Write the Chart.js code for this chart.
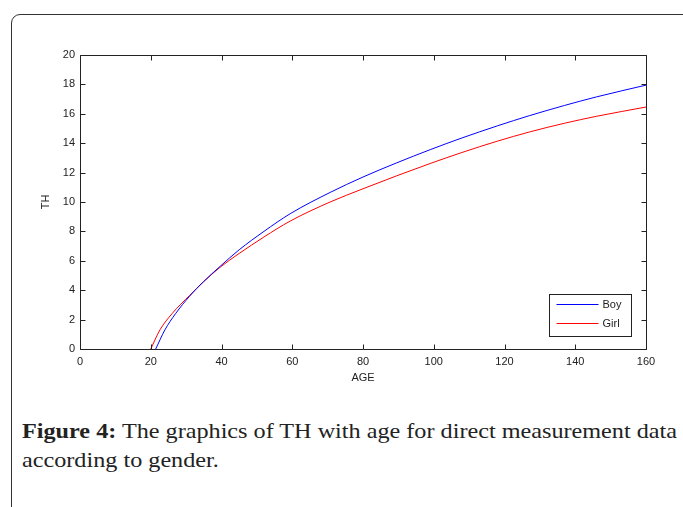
<!DOCTYPE html>
<html>
<head>
<meta charset="utf-8">
<script src="https://cdn.jsdelivr.net/npm/chart.js@4.4.1/dist/chart.umd.min.js"></script>
<style>
  body { margin: 0; background: #fff; }
  #wrap { position: relative; width: 683px; height: 507px; overflow: hidden; }
  #frame {
    position: absolute; left: 11px; top: 14px; width: 690px; height: 520px;
    border: 1.5px solid #333; border-radius: 9px;
  }
  #chart { position: absolute; left: 0; top: 0; }
  #caption {
    position: absolute; left: 22px; top: 416px; white-space: nowrap;
    font-family: "Liberation Serif", "DejaVu Serif", serif;
    font-size: 22px; line-height: 29px; color: #222;
    transform-origin: 0 0;
  }
</style>
</head>
<body>
<div id="wrap">
  <div id="frame"></div>
  <canvas id="chart" width="683" height="400"></canvas>
  <div id="caption"><span id="line1"><b>Figure 4:</b> The graphics of TH with age for direct measurement data</span><br>according to gender.</div>
</div>
<script>
// values
const boyAge = [21.4, 24, 27, 31, 35, 39.6, 45, 52, 59.4, 70.7, 80, 89.5, 99, 108, 118, 127, 137, 146, 160];
const boyTH = [0, 1.3, 2.4, 3.6, 4.6, 5.62, 6.75, 8.0, 9.2, 10.65, 11.7, 12.66, 13.56, 14.36, 15.18, 15.87, 16.57, 17.15, 17.95];
const girlAge = [20, 22.6, 26, 31, 35, 39.6, 45, 52, 59.4, 70.7, 80, 89.5, 99, 108, 118, 127, 137, 146, 160];
const girlTH = [0, 1.3, 2.4, 3.65, 4.59, 5.56, 6.5, 7.62, 8.7, 10.0, 10.9, 11.78, 12.62, 13.37, 14.14, 14.76, 15.36, 15.83, 16.46];

const xTicks = [0, 20, 40, 60, 80, 100, 120, 140, 160];
const yTicks = [0, 2, 4, 6, 8, 10, 12, 14, 16, 18, 20];

function toPoints(xs, ys) {
  return xs.map((v, i) => ({ x: v, y: ys[i] }));
}

// widen the caption so it spans like the original typesetting
const caption = document.getElementById('caption');
const line1 = document.getElementById('line1');
caption.style.transform = 'scaleX(' + (655 / line1.getBoundingClientRect().width) + ')';

// MATLAB-like box with inward ticks, plus the legend inside the plot
const boxPlugin = {
  id: 'boxPlugin',
  afterDraw(chart) {
    const { ctx, chartArea: a, scales: { x, y } } = chart;
    const L = Math.round(a.left) + 0.5, R = Math.round(a.right) + 0.5;
    const T = Math.round(a.top) + 0.5, B = Math.round(a.bottom) + 0.5;
    ctx.save();
    ctx.strokeStyle = '#222';
    ctx.lineWidth = 1;
    ctx.beginPath();
    ctx.rect(L, T, R - L, B - T);
    x.ticks.forEach(t => {
      const px = Math.round(x.getPixelForValue(t.value)) + 0.5;
      ctx.moveTo(px, B); ctx.lineTo(px, B - 5);
      ctx.moveTo(px, T); ctx.lineTo(px, T + 5);
    });
    y.ticks.forEach(t => {
      const py = Math.round(y.getPixelForValue(t.value)) + 0.5;
      ctx.moveTo(L, py); ctx.lineTo(L + 5, py);
      ctx.moveTo(R, py); ctx.lineTo(R - 5, py);
    });
    ctx.stroke();

    // legend box
    const lx = 549.5, ly = 294.5, lw = 82, lh = 42;
    ctx.fillStyle = '#fff';
    ctx.fillRect(lx, ly, lw, lh);
    ctx.strokeRect(lx, ly, lw, lh);
    ctx.font = '11px "Liberation Sans", Arial, sans-serif';
    ctx.textBaseline = 'middle';
    chart.data.datasets.forEach((ds, i) => {
      const cy = ly + 10 + i * 19;
      ctx.strokeStyle = ds.borderColor;
      ctx.beginPath();
      ctx.moveTo(lx + 7, cy); ctx.lineTo(lx + 49, cy);
      ctx.stroke();
      ctx.fillStyle = '#222';
      ctx.fillText(ds.label, lx + 53, cy);
    });
    ctx.restore();
  }
};

Chart.defaults.font.family = '"Liberation Sans", Arial, sans-serif';
Chart.defaults.font.size = 11;
Chart.defaults.color = '#222';

new Chart(document.getElementById('chart').getContext('2d'), {
  type: 'scatter',
  data: {
    datasets: [
      {
        label: 'Boy',
        data: toPoints(boyAge, boyTH),
        borderColor: '#0000ff',
        borderWidth: 1,
        showLine: true,
        pointRadius: 0,
        cubicInterpolationMode: 'monotone'
      },
      {
        label: 'Girl',
        data: toPoints(girlAge, girlTH),
        borderColor: '#ff0000',
        borderWidth: 1,
        showLine: true,
        pointRadius: 0,
        cubicInterpolationMode: 'monotone'
      }
    ]
  },
  options: {
    responsive: false,
    animation: false,
    layout: { padding: { top: 55, right: 37, left: 0, bottom: 0 } },
    plugins: { legend: { display: false }, tooltip: { enabled: false } },
    scales: {
      x: {
        type: 'linear',
        min: 0, max: 160,
        afterBuildTicks: s => { s.ticks = xTicks.map(v => ({ value: v })); },
        afterFit: s => { s.height = 51; },
        grid: { display: false, drawTicks: false },
        border: { display: false },
        ticks: { padding: 6, maxRotation: 0 },
        title: { display: true, text: 'AGE', padding: { top: 15, bottom: 15 } }
      },
      y: {
        type: 'linear',
        min: 0, max: 20,
        afterBuildTicks: s => { s.ticks = yTicks.map(v => ({ value: v })); },
        afterFit: s => { s.width = 80; },
        grid: { display: false, drawTicks: false },
        border: { display: false },
        ticks: { padding: 5 },
        title: { display: true, text: 'TH', padding: { top: 39 } }
      }
    }
  },
  plugins: [boxPlugin]
});
</script>
</body>
</html>
